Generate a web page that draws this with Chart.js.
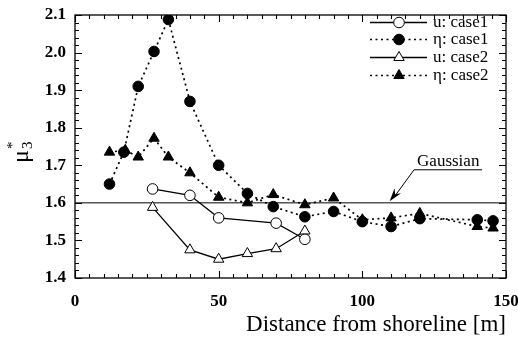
<!DOCTYPE html>
<html>
<head>
<meta charset="utf-8">
<script src="https://cdn.jsdelivr.net/npm/chart.js@4"></script>
<style>
  html, body { margin: 0; padding: 0; background: #fff; }
  #wrap { width: 518px; height: 341px; }
</style>
</head>
<body>
<div id="wrap"><canvas id="chart" width="518" height="341"></canvas></div>
<script>
// distances from shoreline [m] and mu3* values
let xU1 = [27, 40, 50, 70, 80];
let yU1 = [1.637, 1.62, 1.56, 1.546, 1.503];

let xEta1 = [12, 17, 22, 27.5, 32.5, 40, 50, 60, 69, 80, 90, 100, 110, 120, 140, 145.5];
let yEta1 = [1.65, 1.735, 1.91, 2.003, 2.088, 1.87, 1.70, 1.625, 1.59, 1.563, 1.577, 1.55, 1.537, 1.558, 1.555, 1.552];

let xU2 = [27, 40, 50, 60, 70, 80];
let yU2 = [1.588, 1.475, 1.45, 1.465, 1.478, 1.525];

let xEta2 = [12, 17.5, 22, 27.5, 32.5, 40, 50, 60, 69, 80, 90, 100, 110, 120, 140, 145.5];
let yEta2 = [1.735, 1.74, 1.722, 1.772, 1.722, 1.68, 1.615, 1.60, 1.622, 1.595, 1.613, 1.555, 1.56, 1.572, 1.537, 1.533];

let gaussX = [0, 150];
let gaussY = [1.6, 1.6];

let seriesLabels = ['u: case1', 'η: case1', 'u: case2', 'η: case2'];
let xTicks = [0, 50, 100, 150];
let yTicks = [1.4, 1.5, 1.6, 1.7, 1.8, 1.9, 2.0, 2.1];

const serif = "'Liberation Serif', 'DejaVu Serif', serif";
const dots = [2, 3.5];

function toPoints(xs, ys) {
    let pts = [];
    for (let i = 0; i < xs.length; i++) {
        pts.push({x: xs[i], y: ys[i]});
    }
    return pts;
}

// inward ticks on all four sides, major + minor
const frameTicks = {
    id: 'frameTicks',
    afterDraw(chart) {
        const ctx = chart.ctx;
        const a = chart.chartArea;
        const xs = chart.scales.x;
        const ys = chart.scales.y;
        ctx.save();
        ctx.strokeStyle = '#000';
        ctx.lineWidth = 1.3;
        ctx.strokeRect(a.left, a.top, a.right - a.left, a.bottom - a.top);
        ctx.lineWidth = 1.1;
        ctx.beginPath();
        for (let v = 0; v <= 150; v += 5) {
            let px = Math.round(xs.getPixelForValue(v)) + 0.5;
            let len = (v % 50 === 0) ? 7 : 4;
            ctx.moveTo(px, a.bottom); ctx.lineTo(px, a.bottom - len);
            ctx.moveTo(px, a.top); ctx.lineTo(px, a.top + len);
        }
        for (let k = 0; k <= 35; k++) {
            let v = 1.4 + k * 0.02;
            let py = Math.round(ys.getPixelForValue(v)) + 0.5;
            let len = (k % 5 === 0) ? 7 : 4;
            ctx.moveTo(a.left, py); ctx.lineTo(a.left + len, py);
            ctx.moveTo(a.right, py); ctx.lineTo(a.right - len, py);
        }
        ctx.stroke();

        // y axis title: mu with subscript 3 and superscript star
        ctx.fillStyle = '#000';
        ctx.translate(28, 150);
        ctx.rotate(-Math.PI / 2);
        ctx.textBaseline = 'alphabetic';
        ctx.textAlign = 'left';
        ctx.font = '24px ' + serif;
        ctx.fillText('μ', -13, 0);
        ctx.font = '15px ' + serif;
        ctx.fillText('3', 1, 4);
        ctx.fillText('*', 1, -11);
        ctx.restore();
    }
};

// legend with line + marker samples, and the Gaussian callout
const sideNotes = {
    id: 'sideNotes',
    afterDraw(chart) {
        const ctx = chart.ctx;
        const xs = chart.scales.x;
        const ys = chart.scales.y;
        ctx.save();
        ctx.fillStyle = '#000';
        ctx.strokeStyle = '#000';

        let rowY = [22, 39, 57, 75];
        for (let i = 0; i < 4; i++) {
            const ds = chart.data.datasets[i];
            let y = rowY[i] + 0.5;
            ctx.lineWidth = ds.borderWidth;
            ctx.setLineDash(ds.borderDash || []);
            ctx.beginPath();
            ctx.moveTo(370, y); ctx.lineTo(427, y);
            ctx.stroke();
            ctx.setLineDash([]);
            ctx.lineWidth = 1;
            ctx.fillStyle = ds.pointBackgroundColor;
            Chart.helpers.drawPoint(ctx, {
                pointStyle: ds.pointStyle,
                radius: ds.pointRadius,
                borderWidth: 1
            }, 399, y);
            ctx.fillStyle = '#000';
            ctx.font = '17px ' + serif;
            ctx.textBaseline = 'middle';
            ctx.textAlign = 'left';
            ctx.fillText(seriesLabels[i], 433, y);
        }

        // Gaussian label and arrow
        let tipX = xs.getPixelForValue(109.5), tipY = ys.getPixelForValue(1.604);
        let tailX = xs.getPixelForValue(118), tailY = ys.getPixelForValue(1.688);
        ctx.font = '17px ' + serif;
        ctx.textBaseline = 'alphabetic';
        ctx.textAlign = 'left';
        ctx.fillText('Gaussian', tailX + 3, tailY - 4);
        ctx.lineWidth = 1;
        ctx.beginPath();
        ctx.moveTo(tailX + 68, tailY); ctx.lineTo(tailX, tailY);
        ctx.lineTo(tipX + 5, tipY - 5);
        ctx.stroke();
        let ang = Math.atan2(tipY - tailY, tipX - tailX);
        ctx.beginPath();
        ctx.moveTo(tipX, tipY);
        ctx.lineTo(tipX - 14 * Math.cos(ang - 0.3), tipY - 14 * Math.sin(ang - 0.3));
        ctx.lineTo(tipX - 9 * Math.cos(ang), tipY - 9 * Math.sin(ang));
        ctx.lineTo(tipX - 14 * Math.cos(ang + 0.3), tipY - 14 * Math.sin(ang + 0.3));
        ctx.closePath();
        ctx.fill();
        ctx.restore();
    }
};

function series(label, xs, ys, style, filled, dashed) {
    return {
        label: label,
        data: toPoints(xs, ys),
        showLine: true,
        borderColor: '#000',
        borderWidth: dashed ? 1.7 : 1.3,
        borderDash: dashed ? dots : [],
        pointStyle: style,
        pointRadius: style === 'triangle' ? 6 : 5.3,
        pointBorderColor: '#000',
        pointBorderWidth: 1,
        pointBackgroundColor: filled ? '#000' : '#fff',
        tension: 0
    };
}

const ctx = document.getElementById('chart').getContext('2d');
new Chart(ctx, {
    type: 'scatter',
    data: {
        datasets: [
            series(seriesLabels[0], xU1, yU1, 'circle', false, false),
            series(seriesLabels[1], xEta1, yEta1, 'circle', true, true),
            series(seriesLabels[2], xU2, yU2, 'triangle', false, false),
            series(seriesLabels[3], xEta2, yEta2, 'triangle', true, true),
            {
                label: 'Gaussian',
                data: toPoints(gaussX, gaussY),
                showLine: true,
                borderColor: '#000',
                borderWidth: 1,
                pointRadius: 0,
                order: 10
            }
        ]
    },
    options: {
        responsive: false,
        animation: false,
        layout: {padding: {left: 0, right: 12, top: 15, bottom: 0}},
        plugins: {
            legend: {display: false},
            tooltip: {enabled: false}
        },
        scales: {
            x: {
                type: 'linear',
                min: 0,
                max: 150,
                afterBuildTicks: (s) => { s.ticks = xTicks.map(v => ({value: v})); },
                afterFit: (s) => { s.height = 63; s.paddingLeft = 0; s.paddingRight = 0; },
                grid: {display: false, drawTicks: false},
                border: {display: false},
                ticks: {
                    color: '#000',
                    padding: 13,
                    maxRotation: 0,
                    font: {family: serif, size: 17, weight: 'bold'}
                },
                title: {
                    display: true,
                    align: 'end',
                    text: 'Distance from shoreline [m]',
                    color: '#000',
                    padding: {top: 0, bottom: 2},
                    font: {family: serif, size: 23}
                }
            },
            y: {
                type: 'linear',
                min: 1.4,
                max: 2.1,
                afterBuildTicks: (s) => { s.ticks = yTicks.map(v => ({value: v})); },
                afterFit: (s) => { s.width = 75; s.paddingTop = 0; s.paddingBottom = 0; },
                grid: {display: false, drawTicks: false},
                border: {display: false},
                ticks: {
                    color: '#000',
                    padding: 9,
                    font: {family: serif, size: 17, weight: 'bold'},
                    callback: (v) => v.toFixed(1)
                }
            }
        }
    },
    plugins: [frameTicks, sideNotes]
});
</script>
</body>
</html>
